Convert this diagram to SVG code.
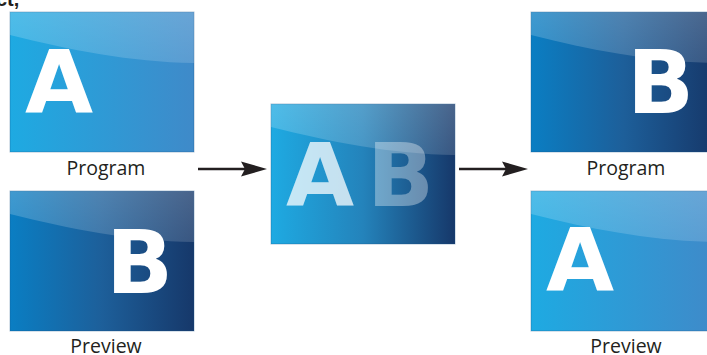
<svg xmlns="http://www.w3.org/2000/svg" width="707" height="355" viewBox="0 0 707 355">
<defs>
<linearGradient id="gA" x1="0" y1="0" x2="1" y2="0">
<stop offset="0" stop-color="#1eaae2"/>
<stop offset="1" stop-color="#3f8ac9"/>
</linearGradient>
<linearGradient id="gB" x1="0" y1="0" x2="1" y2="0">
<stop offset="0" stop-color="#0a7ec3"/>
<stop offset="0.5" stop-color="#1d5f9a"/>
<stop offset="1" stop-color="#16386a"/>
</linearGradient>
<linearGradient id="gM" x1="0" y1="0" x2="1" y2="0">
<stop offset="0" stop-color="#1eaae2"/>
<stop offset="0.5" stop-color="#2483bb"/>
<stop offset="1" stop-color="#16386a"/>
</linearGradient>
<linearGradient id="gloss" x1="0" y1="0" x2="0" y2="1">
<stop offset="0" stop-color="#ffffff" stop-opacity="0.22"/>
<stop offset="1" stop-color="#ffffff" stop-opacity="0.15"/>
</linearGradient>
<path id="glossShape" d="M0,0 H184 V51 C120,50 60,38 0,23 Z"/>
</defs>
<style>
.panel{stroke:#1b4f86;stroke-opacity:0.35;stroke-width:1}
.big{font-family:"DejaVu Sans",sans-serif;font-weight:bold;font-size:88px;fill:#ffffff}
.lbl{font-family:"Open Sans","Liberation Sans",sans-serif;font-size:19.5px;fill:#231f20;text-anchor:middle}
.conn{stroke:#231f20;stroke-width:2.6;fill:none}
.head{fill:#231f20}
</style>
<text x="-4" y="6" font-family="Liberation Sans, sans-serif" font-weight="bold" font-size="20" fill="#231f20">ct,</text>

<g id="program-left">
<rect class="panel" x="10" y="12" width="184" height="140" fill="url(#gA)"/>
<use href="#glossShape" x="10" y="12" fill="url(#gloss)"/>
<text class="big" x="25" y="113">A</text>
<text class="lbl" x="106" y="175">Program</text>
</g>

<g id="preview-left">
<rect class="panel" x="10" y="191" width="184" height="140" fill="url(#gB)"/>
<use href="#glossShape" x="10" y="191" fill="url(#gloss)"/>
<text class="big" x="106" y="293">B</text>
<text class="lbl" x="106" y="353">Preview</text>
</g>

<g id="transition">
<rect class="panel" x="271" y="104" width="184" height="140" fill="url(#gM)"/>
<use href="#glossShape" x="271" y="104" fill="url(#gloss)"/>
<text class="big" x="286" y="206" style="fill-opacity:0.74">A</text>
<text class="big" x="367" y="206" style="fill-opacity:0.35">B</text>
</g>

<g id="program-right">
<rect class="panel" x="531" y="12" width="184" height="140" fill="url(#gB)"/>
<use href="#glossShape" x="531" y="12" fill="url(#gloss)"/>
<text class="big" x="627" y="113">B</text>
<text class="lbl" x="626" y="175">Program</text>
</g>

<g id="preview-right">
<rect class="panel" x="531" y="191" width="184" height="140" fill="url(#gA)"/>
<use href="#glossShape" x="531" y="191" fill="url(#gloss)"/>
<text class="big" x="546" y="291">A</text>
<text class="lbl" x="626" y="353">Preview</text>
</g>

<g id="connectors">
<line class="conn" x1="198" y1="169" x2="250" y2="169"/>
<path class="head" d="M267,169 L241,161.5 L245,169 L241,176.5 Z"/>
<line class="conn" x1="459" y1="169" x2="511" y2="169"/>
<path class="head" d="M528,169 L502,161.5 L506,169 L502,176.5 Z"/>
</g>
</svg>
